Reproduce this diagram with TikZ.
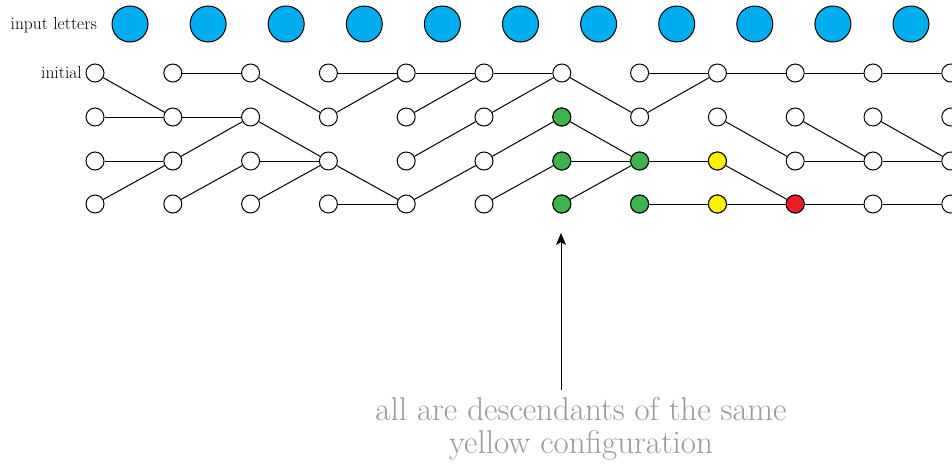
\documentclass[tikz,border=0pt]{standalone}
\usepackage{fontspec}
\usetikzlibrary{arrows.meta}
\definecolor{lblue}{HTML}{00AEEF}
\definecolor{lgreen}{HTML}{39B54A}
\definecolor{lyellow}{HTML}{FFF200}
\definecolor{lred}{HTML}{ED1C24}
\definecolor{lgrey}{HTML}{9A9A9A}
\begin{document}
\begin{tikzpicture}[x=1pt,y=-1pt,
  conf/.style={circle,draw=black,line width=1pt,fill=white,minimum size=18pt,inner sep=0pt},
  letter/.style={circle,draw=black,line width=1pt,fill=lblue,minimum size=36pt,inner sep=0pt},
  edge/.style={line width=1pt,black},
  lab/.style={font=\fontsize{17.5}{20}\selectfont,anchor=base east,inner sep=0pt}]
\useasboundingbox (0,0) rectangle (952,466);
% input letters
\foreach \i in {0,...,10} {
  \node[letter] (L\i) at ({130+78.1*\i},24) {};
}
\node[lab] (inlab) at (97,29) {input letters};
% configurations
\foreach \c in {0,...,11} {
  \foreach \r/\y in {0/73,1/117,2/161,3/204} {
    \node[conf] (n\c-\r) at ({95+77.8*\c},\y) {};
  }
}
\node[lab] (initlab) at (82,78) {initial};
% edges
\foreach \a/\b in {
 0-0/1-1, 0-1/1-1, 0-2/1-2, 0-3/1-2,
 1-0/2-0, 1-1/2-1, 1-2/2-1, 1-3/2-2,
 2-0/3-1, 2-1/3-2, 2-2/3-2, 2-3/3-2,
 3-0/4-0, 3-1/4-0, 3-2/4-3, 3-3/4-3,
 4-0/5-0, 4-1/5-0, 4-2/5-1, 4-3/5-2,
 5-0/6-0, 5-1/6-0, 5-2/6-1, 5-3/6-2,
 6-0/7-1, 6-1/7-2, 6-2/7-2, 6-3/7-2,
 7-0/8-0, 7-1/8-0, 7-2/8-2, 7-3/8-3,
 8-0/9-0, 8-1/9-2, 8-2/9-3, 8-3/9-3,
 9-0/10-0, 9-1/10-2, 9-2/10-2, 9-3/10-3,
 10-0/11-0, 10-1/11-2, 10-2/11-2, 10-3/11-3} {
  \draw[edge] (n\a) -- (n\b);
}
% coloured configurations
\foreach \n in {6-1,6-2,6-3,7-2,7-3} { \node[conf,fill=lgreen] at (n\n) {}; }
\foreach \n in {8-2,8-3} { \node[conf,fill=lyellow] at (n\n) {}; }
\node[conf,fill=lred] at (n9-3) {};
% annotation
\node[align=center,text=lgrey,font=\fontsize{33}{33}\selectfont,inner sep=0pt,anchor=base] (note) at (581,453) {all are descendants of the same\\yellow configuration};
\coordinate (tip) at (561,233);
\draw[line width=1pt,-{Stealth[length=12pt,width=10pt,inset=3pt]}] (561,390) -- (tip);
\end{tikzpicture}
\end{document}
